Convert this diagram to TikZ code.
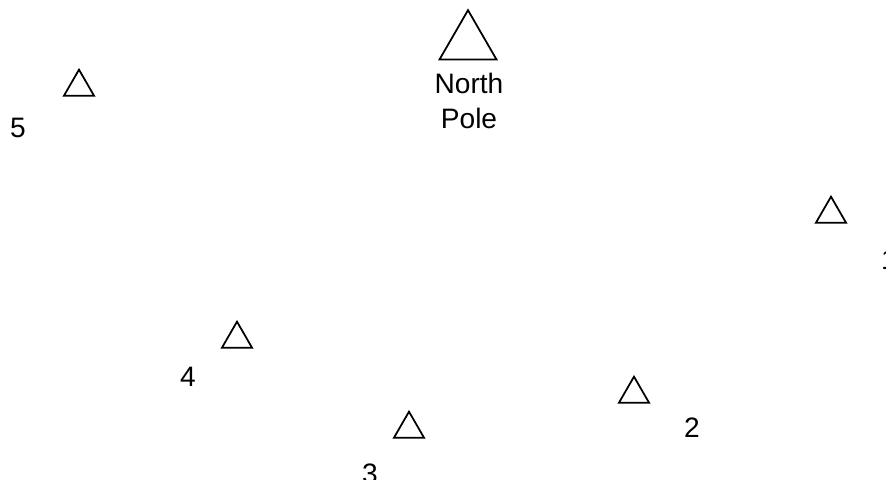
\documentclass[tikz,border=0pt]{standalone}
\usepackage{fontspec}
\setmainfont{Liberation Sans}
\usetikzlibrary{shapes.geometric}
\tikzset{
	station/.style={draw,regular polygon,regular polygon sides=3,inner sep=0pt,minimum size=1.04cm,line width=1.5pt},
	pole/.style={station,minimum size=1.97cm},
	tag/.style={font=\fontsize{24}{30}\selectfont,inner sep=0pt}
}
\begin{document}
\begin{tikzpicture}[x=0.03cm,y=-0.03cm]
	\clip (0,0) rectangle (886,480);
	\node[pole] (np) at (468,43) {};
	\node[tag,align=center] (nplabel) at (469,101) {North\\Pole};
	\node[station] (s1) at (831,214) {};
	\node[station] (s2) at (634,394) {};
	\node[station] (s3) at (409,429) {};
	\node[station] (s4) at (237,339) {};
	\node[station] (s5) at (79,87) {};
	%station 1 is cut at the right border
	\node[tag,anchor=west] (l1) at (881,260) {1};
	\node[tag] (l2) at (692,428) {2};
	\node[tag] (l3) at (370,474) {3};
	\node[tag] (l4) at (188,377) {4};
	\node[tag] (l5) at (18,128) {5};
\end{tikzpicture}
\end{document}
